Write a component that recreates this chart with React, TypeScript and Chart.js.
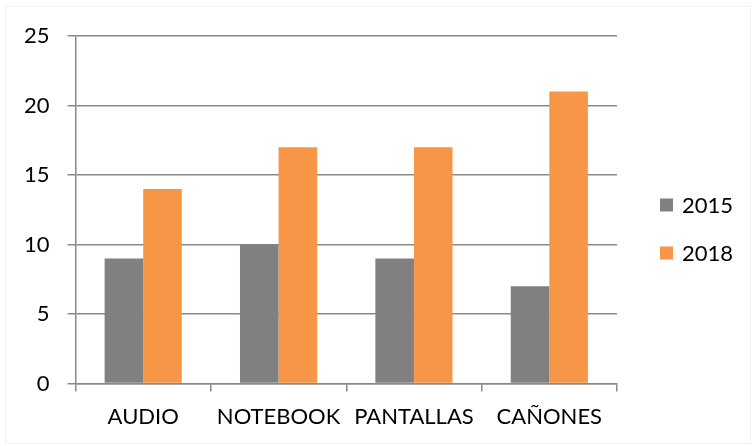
import React, { useEffect, useRef } from "react";
import { Chart, registerables } from "chart.js";

Chart.register(...registerables);

const categories = ["AUDIO", "NOTEBOOK", "PANTALLAS", "CAÑONES"];
const series2015 = [9, 10, 9, 7];
const series2018 = [14, 17, 17, 21];
const seriesNames = ["2015", "2018"];
const seriesColors = ["#808080", "#F79646"];
const yTicks = { min: 0, max: 25, step: 5 };

const GRID = "#898989";
const FONT = "Lato, 'Open Sans', sans-serif";

const sideLegend = {
  id: "sideLegend",
  afterDraw(chart: any) {
    const ctx = chart.ctx;
    const x = chart.chartArea.right + 43;
    const spacing = 48;
    const n = chart.data.datasets.length;
    const startY = chart.height / 2 + 6 - ((n - 1) * spacing) / 2;
    ctx.save();
    ctx.font = `22px ${FONT}`;
    ctx.textBaseline = "middle";
    ctx.textAlign = "left";
    chart.data.datasets.forEach((ds: any, i: number) => {
      const cy = startY + i * spacing;
      ctx.fillStyle = ds.backgroundColor;
      ctx.fillRect(x, cy - 6.5, 13, 13);
      ctx.fillStyle = "#000";
      ctx.fillText(ds.label, x + 22, cy + 1);
    });
    ctx.restore();
  },
};

export default function App() {
  const ref = useRef<HTMLCanvasElement | null>(null);
  useEffect(() => {
    if (!ref.current) return;
    const chart = new Chart(ref.current, {
      type: "bar",
      data: {
        labels: categories,
        datasets: [
          { label: seriesNames[0], data: series2015, backgroundColor: seriesColors[0] },
          { label: seriesNames[1], data: series2018, backgroundColor: seriesColors[1] },
        ],
      },
      options: {
        animation: false,
        responsive: false,
        maintainAspectRatio: false,
        layout: { padding: { left: 6, top: 36, right: 137, bottom: 4 } },
        datasets: { bar: { categoryPercentage: 0.57, barPercentage: 1 } },
        plugins: {
          tooltip: { enabled: false },
          legend: { display: false },
        },
        scales: {
          x: {
            grid: { display: true, drawOnChartArea: false, drawTicks: true, tickLength: 8, color: GRID, offset: true, lineWidth: 1.5 },
            border: { display: true, color: GRID, width: 1.5 },
            ticks: { color: "#000", font: { family: FONT, size: 22 }, padding: 12, maxRotation: 0, autoSkip: false },
          },
          y: {
            min: yTicks.min,
            max: yTicks.max,
            grid: { color: GRID, lineWidth: 1.5, tickLength: 8 },
            border: { display: true, color: GRID, width: 1.5 },
            ticks: { stepSize: yTicks.step, color: "#000", font: { family: FONT, size: 22 }, padding: 18 },
          },
        },
      },
      plugins: [sideLegend],
    });
    return () => chart.destroy();
  }, []);
  return (
    <div style={{ position: "absolute", left: 0, top: 0, width: 754, height: 446, background: "#fff" }}>
      <div style={{ position: "absolute", left: 5, top: 6, width: 744, height: 436, border: "1px solid #f2f2f2" }} />
      <canvas ref={ref} width={754} height={446} style={{ position: "absolute", left: 0, top: 0 }} />
    </div>
  );
}
